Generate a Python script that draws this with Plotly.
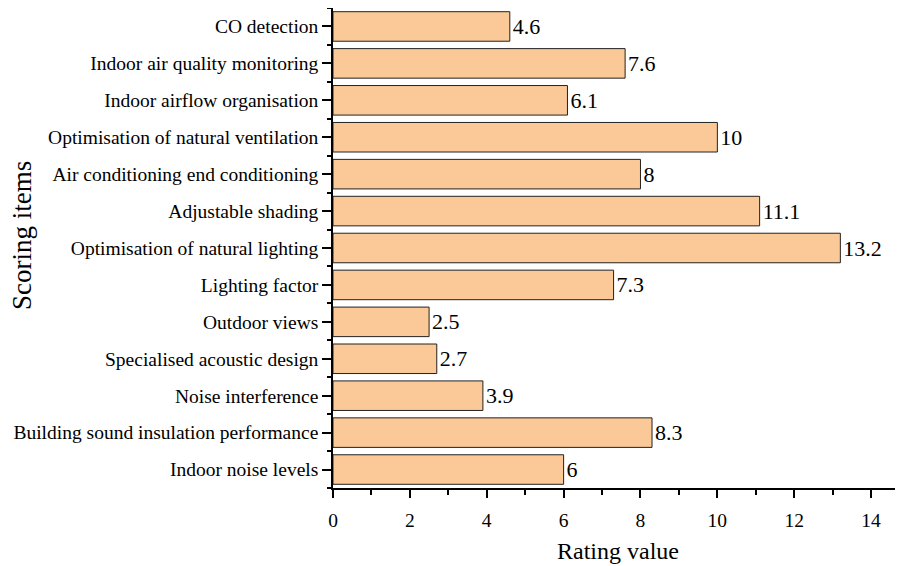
import plotly.graph_objects as go

categories = [
    "CO detection",
    "Indoor air quality monitoring",
    "Indoor airflow organisation",
    "Optimisation of natural ventilation",
    "Air conditioning end conditioning",
    "Adjustable shading",
    "Optimisation of natural lighting",
    "Lighting factor",
    "Outdoor views",
    "Specialised acoustic design",
    "Noise interference",
    "Building sound insulation performance",
    "Indoor noise levels",
]
values = [4.6, 7.6, 6.1, 10, 8, 11.1, 13.2, 7.3, 2.5, 2.7, 3.9, 8.3, 6]
labels = ["4.6", "7.6", "6.1", "10", "8", "11.1", "13.2", "7.3", "2.5", "2.7", "3.9", "8.3", "6"]

n = len(categories)
ypos = list(range(n - 1, -1, -1))

font = "Liberation Serif, Times New Roman, serif"

fig = go.Figure(go.Bar(
    x=values,
    y=ypos,
    orientation="h",
    width=0.8,
    marker=dict(color="#FBC997", line=dict(color="#222222", width=1)),
    text=labels,
    textposition="outside",
    textfont=dict(family=font, size=22, color="black"),
    cliponaxis=False,
))

fig.update_layout(
    width=903, height=566,
    margin=dict(l=325, r=8, t=0, b=86),
    plot_bgcolor="white", paper_bgcolor="white",
    showlegend=False,
    font=dict(family=font, color="black"),
)
fig.update_xaxes(
    range=[0, 14.83],
    dtick=2, tick0=0,
    ticks="outside", ticklen=8, tickwidth=1.5, tickcolor="black",
    minor=dict(dtick=1, ticks="outside", ticklen=5, tickwidth=1.5, tickcolor="black"),
    showline=True, linecolor="black", linewidth=1.5,
    showgrid=False, zeroline=False,
    tickfont=dict(family=font, size=19.5, color="black"),
    ticklabelstandoff=6,
    title=dict(text="Rating value", font=dict(family=font, size=24, color="black"), standoff=12),
)
fig.update_yaxes(
    range=[-0.5, n - 0.5],
    tickmode="array", tickvals=ypos, ticktext=categories,
    ticks="outside", ticklen=9, tickwidth=1.5, tickcolor="black",
    minor=dict(tickmode="linear", tick0=0.5, dtick=1, ticks="outside", ticklen=4, tickwidth=1.5, tickcolor="black"),
    showline=True, linecolor="black", linewidth=1.5,
    showgrid=False, zeroline=False,
    tickfont=dict(family=font, size=19.5, color="black"),
)
fig.add_annotation(
    text="Scoring items", textangle=-90,
    xref="paper", yref="paper", x=(14 - 325) / 570, y=0.525,
    xanchor="center", yanchor="middle", showarrow=False,
    font=dict(family=font, size=27, color="black"),
)

fig.write_html("out.html")
